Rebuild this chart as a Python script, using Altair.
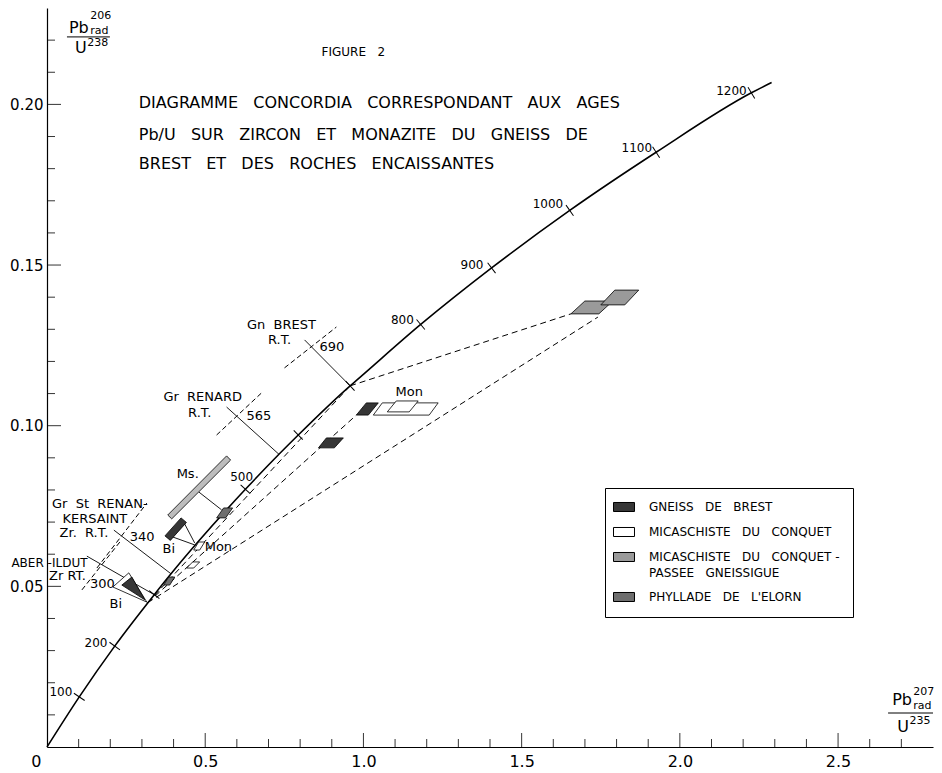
import math
import altair as alt
import pandas as pd

W, H = 886, 739
X_DOMAIN = [0, 2.8]
Y_DOMAIN = [0, 0.23]
FONT = "DejaVu Sans"
S2 = "\u00a0\u00a0"          # wide word gap (non-breaking, not collapsed by SVG)
S3 = "\u00a0\u00a0\u00a0"

# ---------------- data ----------------
# Concordia curve: age (Ma), Pb207/U235, Pb206/U238
conc_age = [0, 100, 200, 300, 340, 400, 500, 565, 600, 690, 700, 800, 900, 1000, 1100, 1200, 1215]
conc_x = [0.0, 0.102, 0.214, 0.339, 0.392, 0.476, 0.627, 0.733, 0.794, 0.958, 0.978, 1.181, 1.405, 1.652, 1.925, 2.226, 2.290]
conc_y = [0.0, 0.0156, 0.0314, 0.0474, 0.0539, 0.0637, 0.0802, 0.0911, 0.0971, 0.1124, 0.1141, 0.1315, 0.1491, 0.1670, 0.1851, 0.2036, 0.2068]

tick_ages = [100, 200, 300, 500, 600, 690, 800, 900, 1000, 1100, 1200]

conc_label_text = ["100", "200", "500", "800", "900", "1000", "1100", "1200"]
conc_label_x = [0.044, 0.155, 0.615, 1.123, 1.343, 1.583, 1.864, 2.163]
conc_label_y = [0.0171, 0.0324, 0.0840, 0.1329, 0.1500, 0.1690, 0.1864, 0.2042]

x_minor_ticks = [0.1, 0.2, 0.3, 0.4, 0.6, 0.7, 0.8, 0.9, 1.1, 1.2, 1.3, 1.4,
                 1.6, 1.7, 1.8, 1.9, 2.1, 2.2, 2.3, 2.4, 2.6, 2.7]
x_major_ticks = [0.5, 1.0, 1.5, 2.0, 2.5]
y_minor_ticks = [0.01, 0.02, 0.03, 0.04, 0.06, 0.07, 0.08, 0.09, 0.11, 0.12,
                 0.13, 0.14, 0.16, 0.17, 0.18, 0.19, 0.21, 0.22]
y_major_ticks = [0.05, 0.10, 0.15, 0.20]
x_label_values = [0.5, 1.0, 1.5, 2.0, 2.5]
y_label_values = [0.05, 0.10, 0.15, 0.20]

lower_intercept = (0.318, 0.0449)


def conc(age):
    i = conc_age.index(age)
    return (conc_x[i], conc_y[i])


# discordia lines (dashed)
discordia_lines = [
    (lower_intercept, conc(690)),
    (lower_intercept, (0.9776, 0.1033)),
    (lower_intercept, (1.741, 0.1338)),
    (conc(690), (1.6556, 0.1348)),
]
# R.T. error crossings (dashed)
rt_dashed_lines = [
    ((0.7506, 0.1180), (0.9145, 0.1307)),
    ((0.536, 0.0971), (0.678, 0.1102)),
    ((0.1577, 0.0557), (0.3154, 0.0759)),
    ((0.1104, 0.0489), (0.2302, 0.0638)),
]
# solid thin lines: R.T. age pointers and mineral tie lines
solid_lines = [
    ((0.814, 0.1267), conc(690)),
    ((0.5676, 0.1058), conc(565)),
    ((0.2113, 0.0675), conc(340)),
    ((0.126, 0.0594), conc(300)),
    ((0.4793, 0.0794), (0.5519, 0.0738)),
    ((0.4320, 0.0700), (0.4667, 0.0635)),
    ((0.3879, 0.0657), (0.4667, 0.0629)),
]

# error boxes by rock unit (legend categories)
unit_names = ["GNEISS" + S3 + "DE" + S3 + "BREST",
              "MICASCHISTE" + S3 + "DU" + S3 + "CONQUET",
              "MICASCHISTE" + S3 + "DU" + S3 + "CONQUET\u00a0-|PASSEE" + S3 + "GNEISSIGUE",
              "PHYLLADE" + S3 + "DE" + S3 + "L'ELORN"]
unit_colors = ["#363636", "#ffffff", "#9a9a9a", "#6e6e6e"]

box_gneiss_1 = [(0.8578, 0.0931), (0.8830, 0.0962), (0.9366, 0.0962), (0.9082, 0.0931)]
box_gneiss_2 = [(0.9776, 0.1033), (1.0091, 0.1071), (1.0470, 0.1071), (1.0155, 0.1033)]
box_mica_1 = [(1.0312, 0.1033), (1.0596, 0.1071), (1.2362, 0.1071), (1.2078, 0.1033)]
box_mica_mon = [(1.0754, 0.1043), (1.1038, 0.1077), (1.1731, 0.1077), (1.1447, 0.1043)]
box_mica_2 = [(0.4636, 0.0613), (0.4793, 0.0638), (0.4983, 0.0638), (0.4825, 0.0613)]
box_mica_3 = [(0.4415, 0.0557), (0.4604, 0.0576), (0.4825, 0.0576), (0.4636, 0.0557)]
box_passee_1 = [(1.6556, 0.1348), (1.6998, 0.1388), (1.7881, 0.1388), (1.7439, 0.1348)]
box_passee_2 = [(1.7502, 0.1376), (1.7944, 0.1422), (1.8701, 0.1422), (1.8259, 0.1376)]
box_phyl_1 = [(0.5361, 0.0713), (0.5582, 0.0744), (0.5866, 0.0744), (0.5645, 0.0713)]
box_phyl_2 = [(0.3690, 0.0504), (0.3847, 0.0529), (0.4037, 0.0529), (0.3879, 0.0504)]

unit_boxes = [
    (unit_names[0], box_gneiss_1), (unit_names[0], box_gneiss_2),
    (unit_names[1], box_mica_1), (unit_names[1], box_mica_mon),
    (unit_names[1], box_mica_2), (unit_names[1], box_mica_3),
    (unit_names[2], box_passee_1), (unit_names[2], box_passee_2),
    (unit_names[3], box_phyl_1), (unit_names[3], box_phyl_2),
]

# mineral boxes (Ms., Bi) not in the legend
ms_bar = [(0.3816, 0.0722), (0.5676, 0.0906), (0.5803, 0.0893), (0.3942, 0.0710)]
bi_bar = [(0.3728, 0.0657), (0.4236, 0.0713), (0.4406, 0.0699), (0.3898, 0.0643)]
bi_aber_white = [(0.2081, 0.0498), (0.2586, 0.0542), (0.3154, 0.0451)]
bi_aber_dark = [(0.2365, 0.0504), (0.2681, 0.0529), (0.3091, 0.0458)]
mineral_boxes = [(ms_bar, "#bdbdbd"), (bi_bar, "#363636"),
                 (bi_aber_white, "#ffffff"), (bi_aber_dark, "#363636")]

# texts
title_lines = [S3.join(["DIAGRAMME", "CONCORDIA", "CORRESPONDANT", "AUX", "AGES"]),
               S3.join(["Pb/U", "SUR", "ZIRCON", "ET", "MONAZITE", "DU", "GNEISS", "DE"]),
               S3.join(["BREST", "ET", "DES", "ROCHES", "ENCAISSANTES"])]
title_x = [0.2901, 0.2901, 0.2901]
title_y = [0.2004, 0.1906, 0.1815]

fig_text = ["FIGURE" + S3 + "2"]
fig_x = [0.968]
fig_y = [0.2163]

note_c_text = ["Gn" + S2 + "BREST", "R.T.", "Gr" + S2 + "RENARD", "R.T.", "KERSAINT",
               "Zr." + S2 + "R.T.", "Bi", "Bi", "Ms.", "Mon"]
note_c_x = [0.741, 0.735, 0.492, 0.4825, 0.1514, 0.1167, 0.2176, 0.3847, 0.4447, 1.1447]
note_c_y = [0.1313, 0.1267, 0.1089, 0.1040, 0.0711, 0.0665, 0.0445, 0.0616, 0.0850, 0.1105]

note_l_text = ["690", "565", "340", "300", "Zr RT.", "Gr" + S2 + "St" + S2 + "RENAN-", "Mon"]
note_l_x = [0.861, 0.6307, 0.2617, 0.1356, 0.0063, 0.0158, 0.4983]
note_l_y = [0.1245, 0.1030, 0.0654, 0.0507, 0.0532, 0.0757, 0.0622]

note_r_text = ["ABER -ILDUT"]
note_r_x = [0.128]
note_r_y = [0.0573]

# axis title glyphs
big_text = ["Pb", "U", "Pb", "U", "0"]
big_x = [0.0694, 0.0883, 2.671, 2.6868, -0.050]
big_y = [0.2239, 0.2176, 0.01463, 0.00622, -0.0047]
small_text = ["206", "rad", "238", "207", "rad", "235"]
small_x = [0.137, 0.137, 0.127, 2.7373, 2.7373, 2.726]
small_y = [0.2275, 0.2227, 0.2192, 0.01712, 0.01276, 0.00809]
frac_x = [0.0631, 2.658]
frac_x2 = [0.1987, 2.800]
frac_y = [0.2210, 0.01058]

# ---------------- frames ----------------
conc_df = pd.DataFrame({"age": conc_age, "x": conc_x, "y": conc_y})

sx = W / (X_DOMAIN[1] - X_DOMAIN[0])
sy = H / (Y_DOMAIN[1] - Y_DOMAIN[0])
tick_rows = []
for a in tick_ages:
    i = conc_age.index(a)
    dx = (conc_x[i + 1] - conc_x[i - 1]) * sx
    dy = (conc_y[i + 1] - conc_y[i - 1]) * sy
    theta = math.degrees(math.atan2(dy, dx))
    tick_rows.append({"x": conc_x[i], "y": conc_y[i], "angle": (90 - theta) % 180})
tick_df = pd.DataFrame(tick_rows)


def seg_df(segs):
    return pd.DataFrame([{"x": a[0], "y": a[1], "x2": b[0], "y2": b[1]} for a, b in segs])


def poly_rows(shapes, key):
    rows = []
    for k, (val, pts) in enumerate(shapes):
        closed = list(pts) + [pts[0]]
        for j, (px, py) in enumerate(closed):
            rows.append({"shape": k, "i": j, "x": px, "y": py, key: val})
    return pd.DataFrame(rows)


unit_df = poly_rows(unit_boxes, "unit")
mineral_df = poly_rows([(c, p) for p, c in mineral_boxes], "col")

XS = alt.Scale(domain=X_DOMAIN, nice=False, zero=False)
YS = alt.Scale(domain=Y_DOMAIN, nice=False, zero=False)
XA = alt.Axis(values=x_label_values, format=".1f", ticks=False, grid=False,
              domainColor="black", domainWidth=1.2, labelFontSize=16, labelColor="black",
              labelFont=FONT, labelPadding=6, title=None, labelFlush=False)
YA = alt.Axis(values=y_label_values, format=".2f", ticks=False, grid=False,
              domainColor="black", domainWidth=1.2, labelFontSize=15, labelColor="black",
              labelFont=FONT, labelPadding=4, title=None, labelFlush=False)


def X(f="x"):
    return alt.X(f"{f}:Q", scale=XS, axis=XA)


def Y(f="y"):
    return alt.Y(f"{f}:Q", scale=YS, axis=YA)


layers = []

# axis ticks pointing inward
layers.append(alt.Chart(pd.DataFrame({"t": x_minor_ticks})).mark_rule(color="black", strokeWidth=0.8)
              .encode(x=X("t"), y=alt.value(H), y2=alt.value(H - 8)))
layers.append(alt.Chart(pd.DataFrame({"t": x_major_ticks})).mark_rule(color="black", strokeWidth=0.8)
              .encode(x=X("t"), y=alt.value(H), y2=alt.value(H - 14)))
layers.append(alt.Chart(pd.DataFrame({"t": y_minor_ticks})).mark_rule(color="black", strokeWidth=0.8)
              .encode(y=Y("t"), x=alt.value(0), x2=alt.value(8)))
layers.append(alt.Chart(pd.DataFrame({"t": y_major_ticks})).mark_rule(color="black", strokeWidth=0.8)
              .encode(y=Y("t"), x=alt.value(0), x2=alt.value(14)))

# discordia and R.T. dashed lines
layers.append(alt.Chart(seg_df(discordia_lines)).mark_rule(color="black", strokeWidth=1, strokeDash=[6, 4])
              .encode(x=X(), y=Y(), x2="x2:Q", y2="y2:Q"))
layers.append(alt.Chart(seg_df(rt_dashed_lines)).mark_rule(color="black", strokeWidth=1, strokeDash=[5, 3])
              .encode(x=X(), y=Y(), x2="x2:Q", y2="y2:Q"))
layers.append(alt.Chart(seg_df(solid_lines)).mark_rule(color="black", strokeWidth=0.9)
              .encode(x=X(), y=Y(), x2="x2:Q", y2="y2:Q"))

# concordia
layers.append(alt.Chart(conc_df).mark_line(color="black", strokeWidth=1.6, interpolate="monotone")
              .encode(x=X(), y=Y(), order="age:Q"))
layers.append(alt.Chart(tick_df).mark_point(shape="stroke", size=169, color="black", strokeWidth=1, opacity=1)
              .encode(x=X(), y=Y(), angle=alt.Angle("angle:Q", scale=None)))

# error boxes
layers.append(alt.Chart(mineral_df).mark_line(stroke="black", strokeWidth=0.8)
              .encode(x=X(), y=Y(), order="i:Q", detail="shape:N",
                      fill=alt.Fill("col:N", scale=None)))
layers.append(alt.Chart(unit_df).mark_line(stroke="black", strokeWidth=0.8)
              .encode(x=X(), y=Y(), order="i:Q", detail="shape:N",
                      fill=alt.Fill("unit:N", scale=alt.Scale(domain=unit_names, range=unit_colors),
                                    legend=alt.Legend(
                                        title=None, orient="none", legendX=558, legendY=480,
                                        direction="vertical", symbolType="M-2,-0.86H2V0.86H-2Z",
                                        symbolSize=110, symbolStrokeColor="black", symbolStrokeWidth=1,
                                        symbolOpacity=1, labelFont=FONT, labelFontSize=12,
                                        labelColor="black", labelOffset=19, labelLimit=400,
                                        strokeColor="black", fillColor="white", padding=13,
                                        rowPadding=11, labelExpr="split(datum.label, '|')"))))


def text_layer(texts, xs, ys, size, align):
    df = pd.DataFrame({"t": texts, "x": xs, "y": ys})
    return (alt.Chart(df).mark_text(align=align, baseline="middle", font=FONT, fontSize=size, color="black")
            .encode(x=X(), y=Y(), text="t:N"))


layers.append(text_layer(title_lines, title_x, title_y, 16, "left"))
layers.append(text_layer(fig_text, fig_x, fig_y, 12, "center"))
layers.append(text_layer(note_c_text, note_c_x, note_c_y, 13, "center"))
layers.append(text_layer(note_l_text, note_l_x, note_l_y, 13, "left"))
layers.append(text_layer(note_r_text, note_r_x, note_r_y, 12, "right"))
layers.append(text_layer(conc_label_text, conc_label_x, conc_label_y, 12, "center"))
layers.append(text_layer(big_text, big_x, big_y, 16, "left"))
layers.append(text_layer(small_text, small_x, small_y, 11, "left"))
layers.append(alt.Chart(pd.DataFrame({"x": frac_x, "x2": frac_x2, "y": frac_y}))
              .mark_rule(color="black", strokeWidth=1)
              .encode(x=X(), x2="x2:Q", y=Y()))

chart = (alt.layer(*layers)
         .resolve_scale(fill="independent")
         .properties(width=W, height=H, background="white",
                     autosize=alt.AutoSizeParams(type="none"),
                     padding={"left": 39, "top": 0, "right": 1, "bottom": 24})
         .configure(style={"guide-label": {"lineHeight": 16}},
                    view=alt.ViewConfig(stroke=None)))

chart.save("out.html", embed_options={"renderer": "svg", "actions": False})
